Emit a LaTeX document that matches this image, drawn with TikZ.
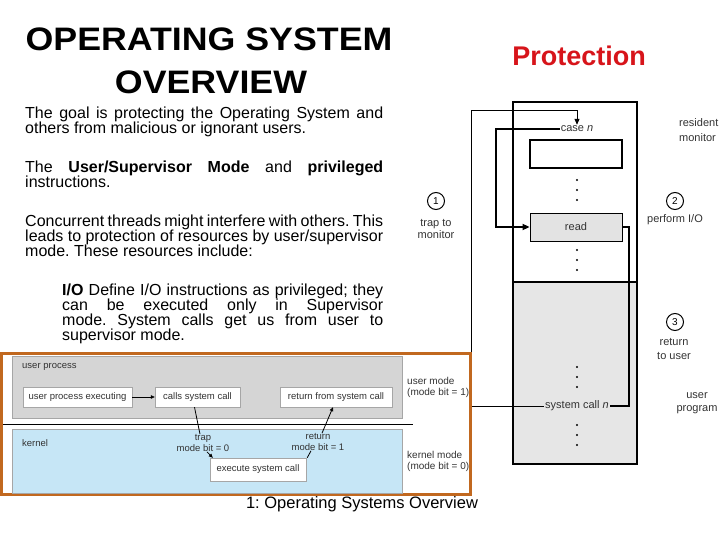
\documentclass[tikz,border=0pt]{standalone}
\usepackage{fontspec}
\setmainfont{Liberation Sans}
\newfontfamily\titlefont[FakeStretch=1.1]{Liberation Sans}
\usetikzlibrary{arrows.meta,calc}
\definecolor{protred}{HTML}{D7141A}
\definecolor{orng}{HTML}{C1681F}
\definecolor{kblue}{HTML}{C6E6F6}
\definecolor{ugrey}{HTML}{D5D5D5}
\definecolor{pgrey}{HTML}{E6E6E6}
\definecolor{lbl}{HTML}{333333}
\begin{document}
\frenchspacing
\begin{tikzpicture}[x=1pt,y=-1pt,
  body/.style={anchor=north west, inner sep=0pt, align=justify, font=\fontsize{16}{15}\selectfont\frenchspacing},
  fig/.style={font=\fontsize{11}{12.5}\selectfont, text=lbl, align=center, inner sep=1pt},
  num/.style={circle, draw=black, line width=1pt, minimum size=17pt, inner sep=0pt, font=\fontsize{10}{10}\selectfont},
  bbox/.style={draw=gray!70, fill=white, font=\fontsize{9.5}{11}\selectfont, text=lbl, inner sep=0pt, minimum height=20pt},
  small/.style={font=\fontsize{9.5}{11}\selectfont, text=lbl, inner sep=0pt},
  modelbl/.style={font=\fontsize{10}{11}\selectfont, text=lbl, inner sep=0pt, align=left, anchor=west},
  bigtip/.style={-{Triangle[length=7pt,width=6pt]}},
  smalltip/.style={-{Triangle[length=4pt,width=3.5pt]}},
  titletext/.style={anchor=base, font=\titlefont\bfseries\fontsize{32.5}{33}\selectfont},
]
\fill[white] (0,0) rectangle (720,540);
\useasboundingbox (0,0) rectangle (720,540);

% titles
\node[titletext] (t1) at (209,51) {OPERATING SYSTEM};
\node[titletext] (t2) at (211,94) {OVERVIEW};
\node[anchor=base, text=protred, font=\bfseries\fontsize{27}{27}\selectfont] (prot) at (579,66) {Protection};

% body
\node[body, text width=358pt] (p1) at (25,106.3) {The goal is protecting the Operating System and\linebreak others from malicious or ignorant users.};
\node[body, text width=358pt] (p2) at (25,160.3) {The \textbf{User/Supervisor Mode} and \textbf{privileged}\linebreak instructions.};
\node[body, text width=358pt] (p3) at (25,214.3) {Concurrent threads might interfere with others. This\linebreak leads to protection of resources by user/supervisor\linebreak mode. These resources include:};
\node[body, text width=321pt] (p4) at (62,283.3) {\hangindent=35pt\hangafter=1 \textbf{I/O} Define I/O instructions as privileged; they\linebreak can be executed only in Supervisor\linebreak mode. System calls get us from user to\linebreak supervisor mode.};

% right figure
\fill[pgrey] (513,282) rectangle (637,464);
\draw[line width=1.2pt] (513,102) rectangle (637,464);
\draw[line width=2pt] (513,282) -- (637,282);
\node[fig, fill=white] (case) at (577,129) {case \textit{n}};
\node[draw, line width=2pt, fill=white, minimum width=92pt, minimum height=28pt, inner sep=0pt] (blank) at (576,154) {};
\node[fig, draw, line width=0.8pt, fill=gray!22, minimum width=92pt, minimum height=28pt] (read) at (576,227) {read};
\node[fig, fill=pgrey] (sysc) at (577,406) {system call \textit{n}};
\foreach \yy in {180,190,200,250,260,270,367,377,387,425,435,445}
  \fill (577,\yy) circle (1.2pt);

\coordinate (trapc) at (471,110);
\draw[line width=0.8pt, -{Triangle[length=6pt,width=5pt]}] (sysc.west) -| (trapc) -| (case.north);
\coordinate (c1) at (496,227);
\draw[line width=1.6pt, bigtip] (case.west) -| (c1) -- (read.west);
\coordinate (c2) at (629,406);
\draw[line width=1.6pt] (read.east) -| (c2) -- (sysc.east);

\node[num] (n1) at (436,201) {1};
\node[fig] (l1) at (436,229) {trap to\\monitor};
\node[num] (n2) at (675,201) {2};
\node[fig] (l2) at (675,220) {perform I/O};
\node[fig, align=left, anchor=west, font=\fontsize{11}{15}\selectfont] (l3) at (678,130) {resident\\monitor};
\node[num] (n3) at (675,322) {3};
\node[fig, font=\fontsize{11}{14}\selectfont] (l4) at (674,349) {return\\to user};
\node[fig, font=\fontsize{11}{13}\selectfont] (l5) at (697,403) {user\\program};

% bottom-left figure
\draw[orng, line width=3pt, fill=white] (1.5,353) rectangle (470,494.5);
\filldraw[fill=ugrey, draw=gray!70, line width=0.6pt] (12,356) rectangle (402,418);
\filldraw[fill=kblue, draw=gray!70, line width=0.6pt] (12,429) rectangle (402,493);
\draw[line width=0.8pt] (3,424) -- (413,424);
\node[small, anchor=west] (up) at (22,367) {user process};
\node[small, anchor=west] (kn) at (22,443) {kernel};
\node[bbox, minimum width=109pt] (ups) at (77.5,397) {user process executing};
\node[bbox, minimum width=85pt] (cs) at (197.5,397) {calls system call};
\node[bbox, minimum width=112pt] (rfs) at (336,397) {return from system call};
\node[bbox, minimum width=96pt, minimum height=23pt] (esc) at (258,469.5) {execute system call};
\draw[line width=0.6pt, smalltip] (ups) -- (cs);
\node[small, align=center] (trl) at (203,443) {trap\\mode bit = 0};
\draw[line width=0.8pt] ($(cs.south)+(-3,0)$) -- ($(trl.north)+(-3,0)$);
\draw[line width=0.8pt, smalltip] ($(trl.south)+(4,0)$) -- ($(esc.north west)+(3,0)$);
\node[small, align=center] (rtl) at (318,442) {return\\mode bit = 1};
\draw[line width=0.8pt] ($(esc.north east)+(1,0)$) -- ($(rtl.south)+(-7,0)$);
\draw[line width=0.8pt, smalltip] ($(rtl.north)+(4,0)$) -- ($(rfs.south)+(-3,0)$);
\node[modelbl] (um) at (407,387) {user mode\\(mode bit = 1)};
\node[modelbl] (km) at (407,461) {kernel mode\\(mode bit = 0)};

% footer
\node[anchor=base, font=\fontsize{16.5}{16.5}\selectfont] (foot) at (362,508) {1: Operating Systems Overview};
\end{tikzpicture}
\end{document}
